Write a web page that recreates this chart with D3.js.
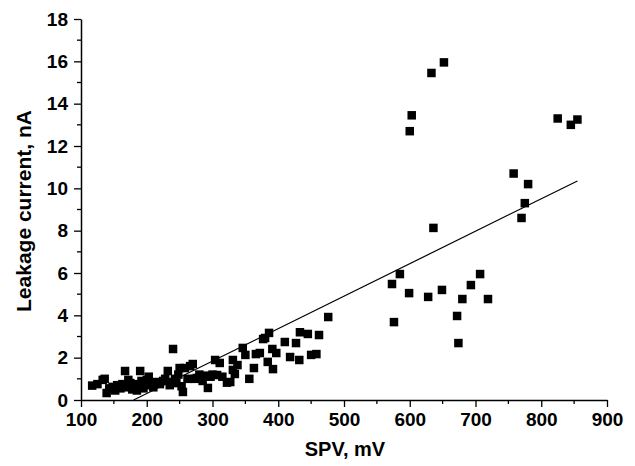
<!DOCTYPE html>
<html><head><meta charset="utf-8">
<script src="https://cdn.jsdelivr.net/npm/d3@7"></script>
<style>
body{margin:0;background:#fff;}
svg text{font-family:"Liberation Sans",Arial,sans-serif;}
</style></head>
<body><svg id="c" width="635" height="466"></svg>
<script>
// SPV (mV) values
const spv = [117,125,133,136,139,143,148,152,155,160,163,167,170,172,175,178,182,185,187,190,192,195,198,200,203,206,210,215,220,225,228,232,235,238,240,243,245,248,250,253,255,258,262,266,270,273,276,280,285,290,293,297,300,304,307,311,315,322,327,331,331,334,338,346,350,356,363,366,372,377,380,384,386,391,392,397,410,418,427,432,433,445,450,458,462,476,
573,576,585,599,600,603,628,633,636,649,652,672,674,680,693,707,719,758,770,775,780,825,845,855];
// Leakage current (nA) values
const leak = [0.68,0.75,0.95,1.0,0.33,0.55,0.62,0.45,0.7,0.55,0.75,1.37,0.6,0.95,0.8,0.5,0.65,0.45,0.75,1.37,0.9,0.55,0.8,0.95,1.1,0.7,0.6,0.85,0.75,0.9,1.0,1.37,0.7,0.85,2.41,1.0,0.8,1.2,1.51,0.65,0.38,1.51,1.0,1.6,1.7,1.0,1.04,1.2,0.9,1.15,0.57,1.1,1.2,1.89,1.18,1.75,1.1,0.82,0.85,1.89,1.42,1.23,1.65,2.46,2.13,1.0,1.51,2.17,2.22,2.88,2.93,1.80,3.17,2.41,1.46,2.22,2.74,2.03,2.69,1.89,3.2,3.12,2.13,2.17,3.07,3.92,
5.48,3.68,5.95,5.05,12.7,13.45,4.87,15.45,8.13,5.2,15.95,3.97,2.69,4.77,5.43,5.95,4.77,10.7,8.6,9.3,10.2,13.3,13.0,13.25];
// Linear fit line endpoints
const fitX = [180,855];
const fitY = [0.0,10.35];
const xTicks = [100,200,300,400,500,600,700,800,900];
const yTicks = [0,2,4,6,8,10,12,14,16,18];
const xLabel = "SPV, mV";
const yLabel = "Leakage current, nA";

const svg = d3.select("#c");
const x = d3.scaleLinear().domain([100,900]).range([81,607]);
const y = d3.scaleLinear().domain([0,18]).range([400,19]);

// minor ticks
const xMinor = d3.range(150,900,100);
const yMinor = d3.range(1,18,2);
svg.append("g").selectAll("line").data(xMinor).join("line")
  .attr("x1",d=>x(d)).attr("x2",d=>x(d)).attr("y1",400).attr("y2",404)
  .attr("stroke","#000").attr("stroke-width",1.3);
svg.append("g").selectAll("line").data(yMinor).join("line")
  .attr("y1",d=>y(d)).attr("y2",d=>y(d)).attr("x1",81).attr("x2",77)
  .attr("stroke","#000").attr("stroke-width",1.3);

const xAxis = svg.append("g").attr("transform","translate(0,400)")
  .call(d3.axisBottom(x).tickValues(xTicks).tickSize(7).tickPadding(6).tickSizeOuter(0));
const yAxis = svg.append("g").attr("transform","translate(81,0)")
  .call(d3.axisLeft(y).tickValues(yTicks).tickSize(7).tickPadding(6).tickSizeOuter(0));
[xAxis,yAxis].forEach(a=>{
  a.select(".domain").attr("stroke","#000").attr("stroke-width",1.5);
  a.selectAll(".tick line").attr("stroke","#000").attr("stroke-width",1.3);
  a.selectAll(".tick text").attr("fill","#000").attr("font-size",19).attr("font-weight","bold")
   .attr("font-family","'Liberation Sans',Arial,sans-serif");
});

// fit line
svg.append("line")
  .attr("x1",x(fitX[0])).attr("y1",y(fitY[0]))
  .attr("x2",x(fitX[1])).attr("y2",y(fitY[1]))
  .attr("stroke","#000").attr("stroke-width",1.2);

// points
const pts = spv.map((v,i)=>[v,leak[i]]);
const s = 8.5;
svg.append("g").selectAll("rect").data(pts).join("rect")
  .attr("x",d=>x(d[0])-s/2).attr("y",d=>y(d[1])-s/2)
  .attr("width",s).attr("height",s).attr("fill","#000");

svg.append("text").attr("x",345).attr("y",456).attr("text-anchor","middle")
  .attr("font-size",20).attr("font-weight","bold").text(xLabel);
svg.append("text").attr("transform","translate(31,211) rotate(-90)").attr("text-anchor","middle")
  .attr("font-size",21).attr("font-weight","bold").text(yLabel);
</script></body></html>
